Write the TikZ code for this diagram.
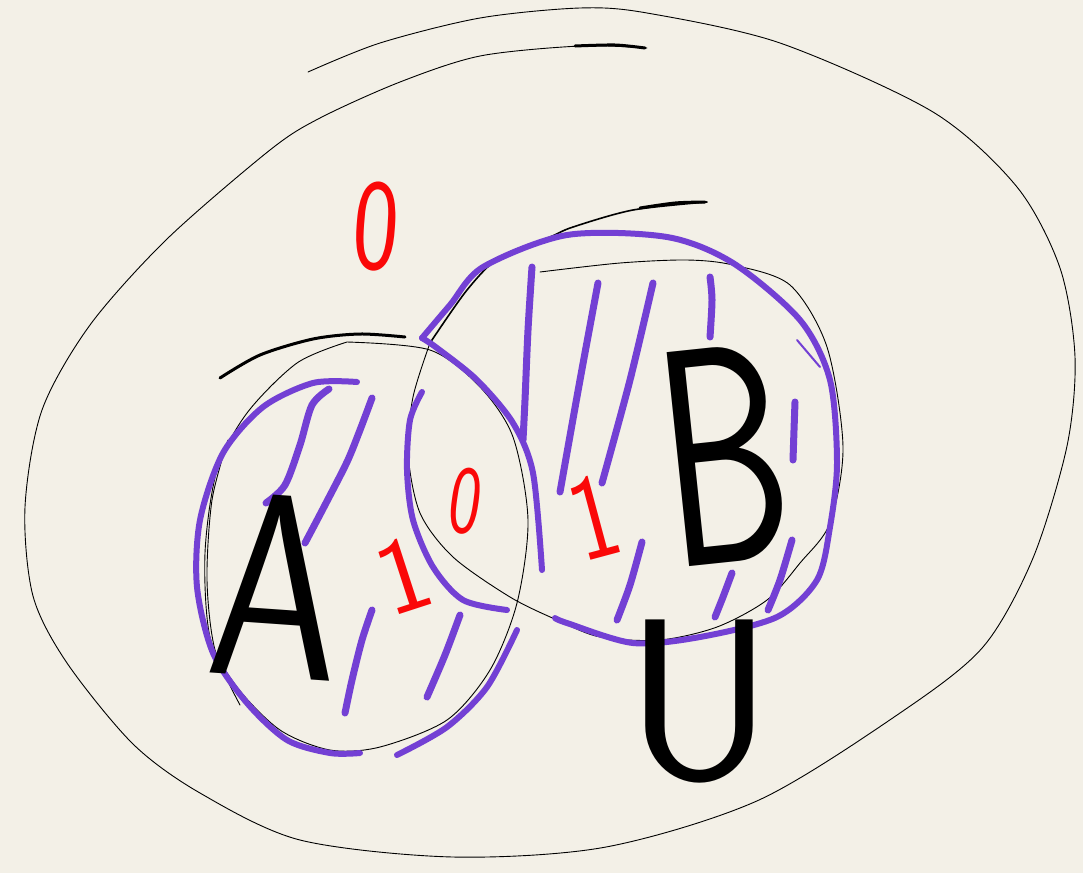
\documentclass[tikz,border=0pt]{standalone}
\usepackage{fontspec}
\definecolor{paper}{RGB}{243,240,231}
\definecolor{vio}{RGB}{115,64,212}
\definecolor{inkred}{RGB}{250,8,8}
\begin{document}
\begin{tikzpicture}[x=1pt,y=-1pt,
  thinink/.style={black,line width=0.9pt,line cap=round,line join=round},
  thickink/.style={black,line width=3pt,line cap=round,line join=round},
  hatch/.style={vio,line width=7pt,line cap=round,line join=round},
  outline/.style={vio,line width=6pt,line cap=round,line join=round},
  lbl/.style={inner sep=0pt,font=\sffamily}]
\fill[paper] (0,0) rectangle (1083,873);
\useasboundingbox (0,0) rectangle (1083,873);

% universe (outer loop)
\draw[thinink] plot[smooth] coordinates {(308,72) (380,43) (480,18) (580,8) (647,13) (780,43) (933,112) (1017,187) (1060,268) (1075,357) (1067,446) (1033,558) (983,647) (900,713) (759,800) (606,847) (453,857) (300,840) (200,793) (133,744) (67,663) (33,596) (25,507) (42,410) (90,325) (167,239) (270,150) (320,118) (400,82) (480,56) (580,46) (647,48)};
\draw[black,line width=3pt,line cap=round] plot[smooth] coordinates {(575,46) (615,45) (645,48)};

% circle A
\draw[thinink] plot[smooth] coordinates {(347,342) (430,350) (480,387) (513,437) (528,520) (517,603) (490,670) (447,720) (380,747) (330,750) (280,730) (237,687) (210,637) (205,553) (217,470) (247,413) (297,363) (347,342)};
\draw[thinink] plot[smooth] coordinates {(228,440) (212,500) (207,580) (215,650) (240,705)};
\draw[thickink] plot[smooth] coordinates {(220,378) (260,355) (313,339) (360,334) (405,337)};

% circle B
\draw[thinink] plot[smooth] coordinates {(540,272) (620,263) (687,260) (733,265) (790,285) (827,347) (843,447) (830,523) (800,563) (767,600) (717,627) (660,640) (600,637) (557,620) (510,597) (453,557) (420,513) (408,453) (413,397) (430,343)};
\draw[black,line width=1.6pt,line cap=round] plot[smooth] coordinates {(430,343) (467,290) (500,257) (550,237) (573,227) (633,210) (707,202)};
\draw[black,line width=3pt,line cap=round] plot[smooth] coordinates {(640,208) (675,203) (705,202)};

% purple outline of A without the lens
\draw[outline] plot[smooth] coordinates {(357,382) (313,383) (263,407) (223,453) (200,520) (197,587) (213,653) (247,703) (287,740) (330,753) (360,753)};
\draw[outline] plot[smooth] coordinates {(397,755) (447,727) (487,687) (517,630)};
\draw[outline] plot[smooth] coordinates {(422,392) (410,420) (407,470) (413,520) (433,567) (463,600) (507,610)};

% purple outline of B without the lens
\draw[outline] plot[smooth] coordinates {(542,570) (533,473) (513,423) (477,380) (437,348) (422,338)};
\draw[outline] plot[smooth] coordinates {(422,338) (450,305) (483,267) (567,235) (667,237) (733,263) (800,320) (830,380) (837,463) (830,527) (817,580) (777,617) (700,637) (633,643) (567,623) (555,618)};
\draw[vio,line width=2pt,line cap=round] (797,340) -- (820,367);

% hatching in A
\draw[hatch] plot[smooth] coordinates {(329,389) (312,405) (300,445) (285,485) (266,503)};
\draw[hatch] plot[smooth] coordinates {(372,398) (360,430) (347,462) (325,505) (305,543)};
\draw[hatch] plot[smooth] coordinates {(372,610) (362,640) (352,680) (345,713)};
\draw[hatch] plot[smooth] coordinates {(460,615) (445,655) (427,697)};

% hatching in B
\draw[hatch] plot[smooth] coordinates {(532,267) (528,330) (525,400) (523,440)};
\draw[hatch] plot[smooth] coordinates {(598,283) (580,380) (560,492)};
\draw[hatch] plot[smooth] coordinates {(653,283) (630,380) (602,483)};
\draw[hatch] plot[smooth] coordinates {(710,277) (712,300) (710,337)};
\draw[hatch] plot[smooth] coordinates {(795,402) (794,430) (793,460)};
\draw[hatch] plot[smooth] coordinates {(642,542) (630,585) (617,620)};
\draw[hatch] plot[smooth] coordinates {(732,573) (723,597) (715,617)};
\draw[hatch] plot[smooth] coordinates {(792,540) (780,580) (768,610)};

% labels
\node[lbl,text=inkred,rotate=-4] (zeroOut) at (376,227) {\scalebox{0.75}[1]{\fontsize{130}{130}\selectfont 0}};
\node[lbl,text=inkred,rotate=-8] (zeroLens) at (466,501) {\scalebox{0.7}[1]{\fontsize{97}{97}\selectfont 0}};
\node[lbl,text=inkred,rotate=18] (oneA) at (403,575) {\fontsize{108}{108}\selectfont 1};
\node[lbl,text=inkred,rotate=15] (oneB) at (594,517) {\scalebox{0.8}[1]{\fontsize{122}{122}\selectfont 1}};
\node[lbl,text=black,rotate=-4] (labA) at (276,586) {\scalebox{0.8}[1]{\fontsize{262}{262}\selectfont A}};
\node[lbl,text=black,rotate=6] (labB) at (724,455) {\scalebox{0.66}[1]{\fontsize{310}{310}\selectfont B}};
\node[lbl,text=black] (labU) at (700,702) {\fontsize{230}{230}\selectfont U};
\end{tikzpicture}
\end{document}
